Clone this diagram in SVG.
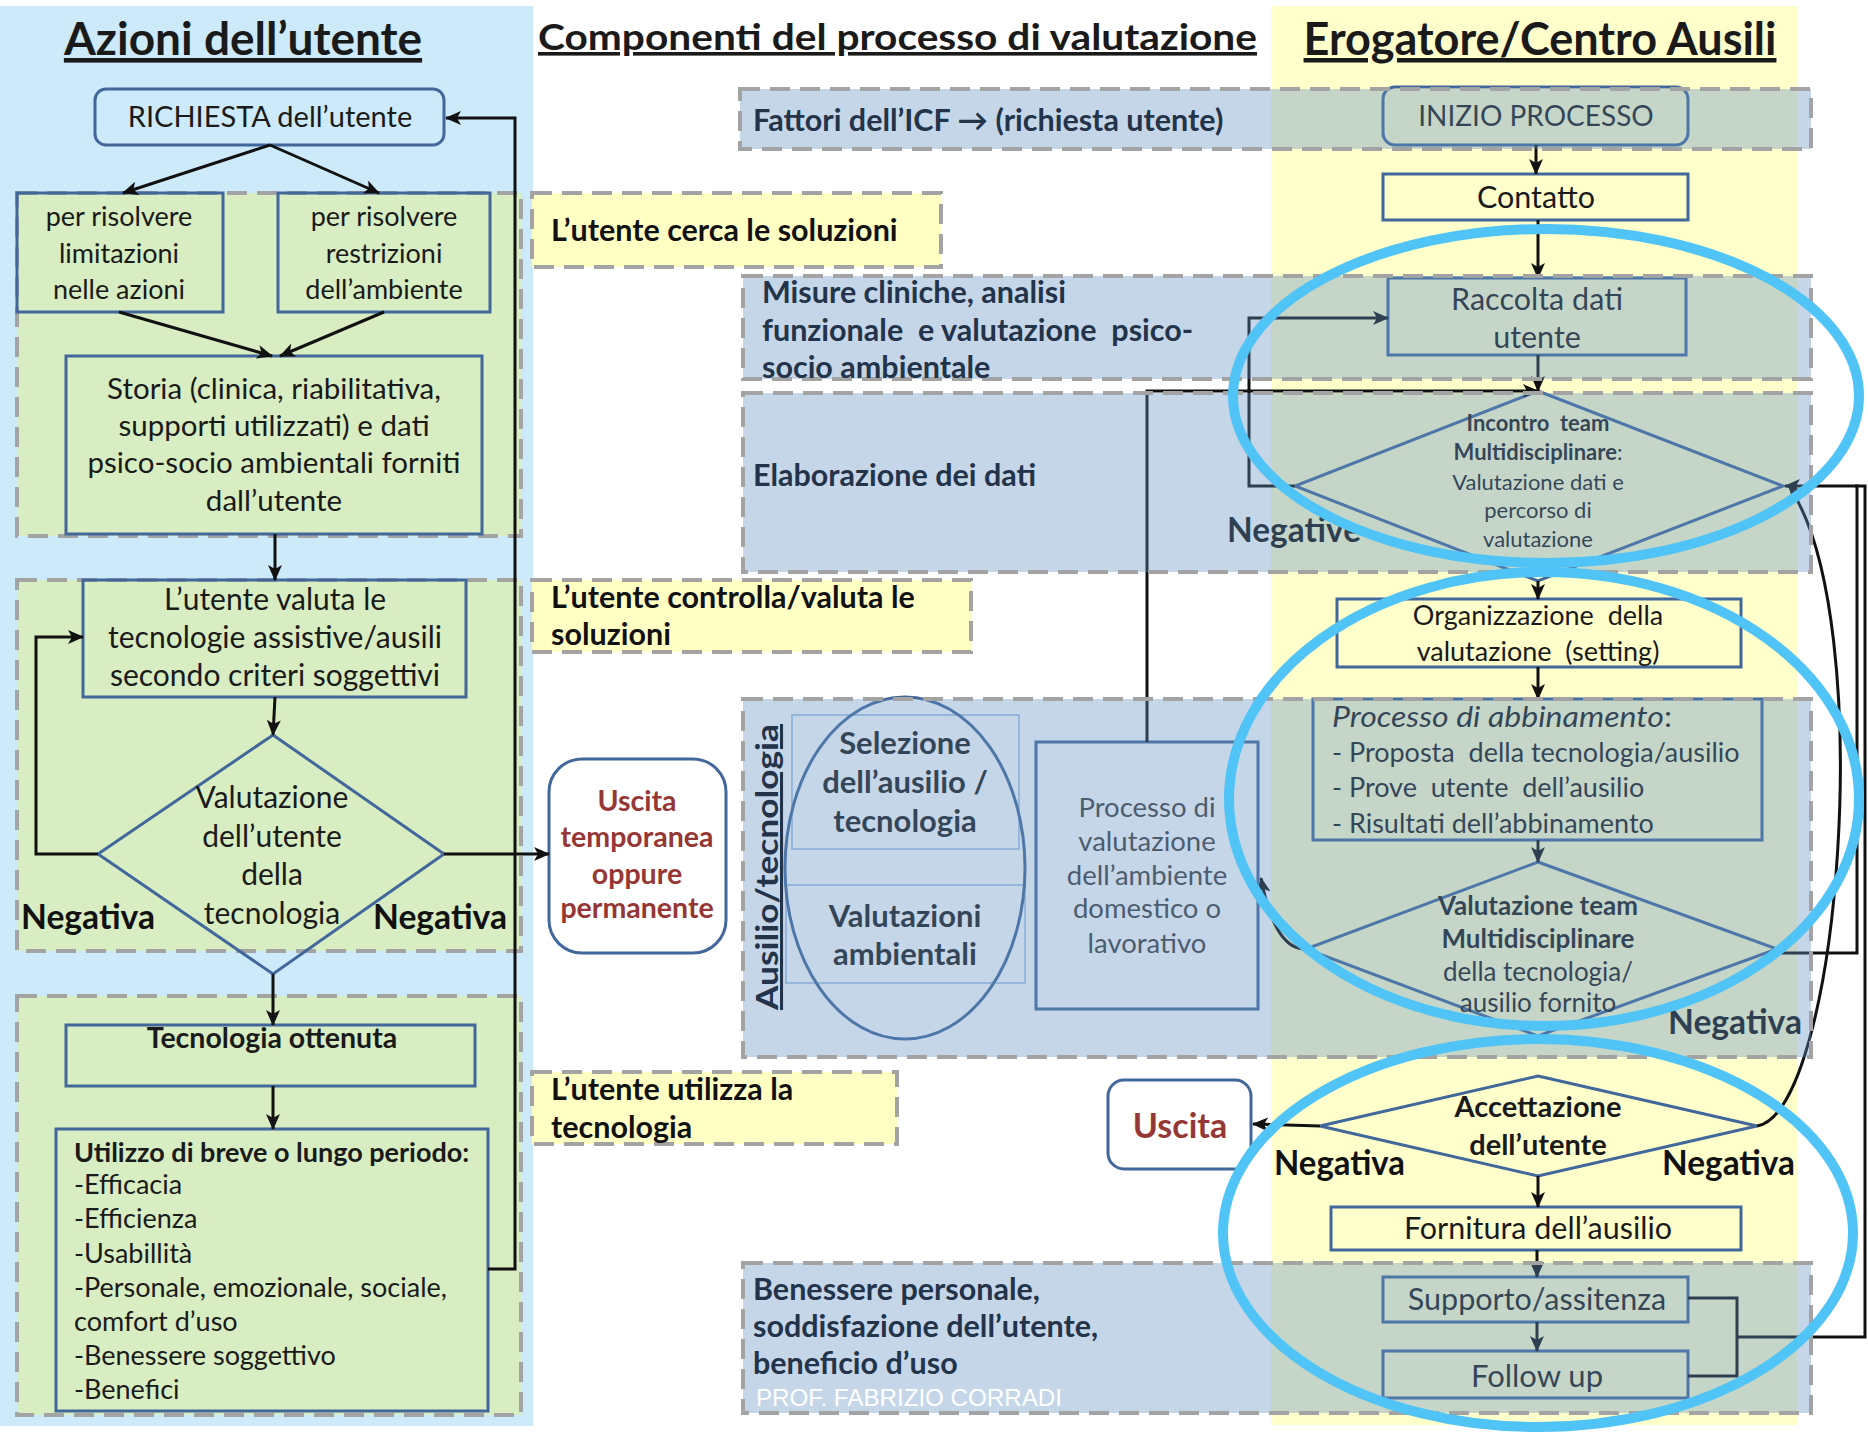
<svg xmlns="http://www.w3.org/2000/svg" width="1868" height="1432" viewBox="0 0 1868 1432">
  <defs>
    <marker id="arr" markerUnits="userSpaceOnUse" markerWidth="16" markerHeight="14" viewBox="0 0 16 14" refX="15" refY="7" orient="auto">
      <path d="M0,0 L16,7 L0,14 L4,7 Z" fill="#111"/>
    </marker>
    <style>
      text { font-family: Lato, "Open Sans", "Liberation Sans", sans-serif; fill: #1a1a1a; }
      .c { text-anchor: middle; }
      .b { font-weight: 700; }
      .box { fill: none; stroke: #41679B; stroke-width: 3; }
      .grp { fill: #D8EDC1; stroke: #A3A3A3; stroke-width: 4; stroke-dasharray: 20 10; }
      .ylw { fill: #FFFFC4; stroke: #A3A3A3; stroke-width: 4; stroke-dasharray: 20 10; }
      .lane { fill: #6290C1; fill-opacity: 0.37; }
      .lane-edge { fill: none; stroke: #A3A3A3; stroke-width: 4; stroke-dasharray: 20 10; }
      .lbl { font-weight: 700; font-size: 30.5px; fill: #22334A; }
      .yl { font-weight: 700; font-size: 30.5px; fill: #111; }
      .con { fill: none; stroke: #111; stroke-width: 3; }
      .arw { marker-end: url(#arr); }
      .neg { font-weight: 700; font-size: 35px; fill: #111; }
      .exit { font-weight: 700; fill: #953735; }
      .mark { fill: none; stroke: #50C4F6; stroke-width: 10; }
      .inner { fill: none; stroke: #9CBCE4; stroke-width: 1.5; }
    </style>
  </defs>

  <!-- backgrounds -->
  <rect x="0" y="0" width="1868" height="1432" fill="#fff"/>
  <rect x="0" y="6" width="533" height="1420" fill="#CDEAFB"/>
  <rect x="1271" y="6" width="526" height="1419" fill="#FFFFCC"/>

  <!-- column titles -->
  <text class="b c" x="243" y="55" font-size="46" text-decoration="underline">Azioni dell’utente</text>
  <text class="b" x="538" y="50" font-size="36" textLength="719" lengthAdjust="spacingAndGlyphs" text-decoration="underline">Componenti del processo di valutazione</text>
  <text class="b c" x="1540" y="55" font-size="45" text-decoration="underline">Erogatore/Centro Ausili</text>

  <!-- user-side containers -->
  <rect id="grp-ricerca" x="17" y="193" width="504" height="343" class="grp" stroke="#E39B9B"/>
  <rect id="grp-valuta" x="17" y="580" width="504" height="371" class="grp"/>
  <rect id="grp-utilizzo" x="17" y="996" width="504" height="419" class="grp"/>

  <!-- yellow phase labels -->
  <g id="fase-cerca">
    <rect x="532" y="193" width="409" height="74" class="ylw"/>
    <text class="yl" x="551" y="241">L’utente cerca le soluzioni</text>
  </g>
  <g id="fase-controlla">
    <rect x="532" y="580" width="439" height="72" class="ylw"/>
    <text class="yl" x="551" y="608">L’utente controlla/valuta le</text>
    <text class="yl" x="551" y="645">soluzioni</text>
  </g>
  <g id="fase-utilizza">
    <rect x="532" y="1072" width="365" height="72" class="ylw"/>
    <text class="yl" x="551" y="1100">L’utente utilizza la</text>
    <text class="yl" x="551" y="1138">tecnologia</text>
  </g>

  <!-- left column nodes -->
  <g id="richiesta">
    <rect x="95" y="89" width="349" height="56" rx="11" class="box"/>
    <text class="c" x="270" y="127" font-size="29">RICHIESTA dell’utente</text>
  </g>
  <g id="limitazioni">
    <rect x="17" y="193" width="206" height="119" class="box"/>
    <text class="c" x="119" y="226" font-size="27">per risolvere</text>
    <text class="c" x="119" y="263" font-size="27">limitazioni</text>
    <text class="c" x="119" y="299" font-size="27">nelle azioni</text>
  </g>
  <g id="restrizioni">
    <rect x="278" y="193" width="212" height="119" class="box"/>
    <text class="c" x="384" y="226" font-size="27">per risolvere</text>
    <text class="c" x="384" y="263" font-size="27">restrizioni</text>
    <text class="c" x="384" y="299" font-size="27">dell’ambiente</text>
  </g>
  <g id="storia">
    <rect x="66" y="356" width="416" height="178" class="box"/>
    <text class="c" x="274" y="399" font-size="29.5">Storia (clinica, riabilitativa,</text>
    <text class="c" x="274" y="436" font-size="29.5">supporti utilizzati) e dati</text>
    <text class="c" x="274" y="473" font-size="29.5">psico-socio ambientali forniti</text>
    <text class="c" x="274" y="511" font-size="29.5">dall’utente</text>
  </g>
  <g id="valuta-tecnologie">
    <rect x="83" y="580" width="383" height="117" class="box"/>
    <text class="c" x="275" y="610" font-size="30">L’utente valuta le</text>
    <text class="c" x="275" y="648" font-size="30">tecnologie assistive/ausili</text>
    <text class="c" x="275" y="686" font-size="30">secondo criteri soggettivi</text>
  </g>
  <g id="valutazione-utente">
    <path d="M273,735 L444,854 L273,974 L98,854 Z" class="box"/>
    <text class="c" x="272" y="808" font-size="30">Valutazione</text>
    <text class="c" x="272" y="847" font-size="30">dell’utente</text>
    <text class="c" x="272" y="885" font-size="30">della</text>
    <text class="c" x="272" y="924" font-size="30">tecnologia</text>
    <text class="neg" x="21" y="929" textLength="134" lengthAdjust="spacingAndGlyphs">Negativa</text>
    <text class="neg" x="373" y="929" textLength="134" lengthAdjust="spacingAndGlyphs">Negativa</text>
  </g>
  <g id="tecnologia-ottenuta">
    <rect x="66" y="1025" width="409" height="61" class="box"/>
    <text class="b c" x="272" y="1048" font-size="28.5">Tecnologia ottenuta</text>
  </g>
  <g id="utilizzo">
    <rect x="56" y="1129" width="432" height="282" class="box"/>
    <text class="b" x="74" y="1162" font-size="27">Utilizzo di breve o lungo periodo:</text>
    <text x="74" y="1194" font-size="27">-Efficacia</text>
    <text x="74" y="1228" font-size="27">-Efficienza</text>
    <text x="74" y="1263" font-size="27">-Usabillità</text>
    <text x="74" y="1297" font-size="27">-Personale, emozionale, sociale,</text>
    <text x="74" y="1331" font-size="27">comfort d’uso</text>
    <text x="74" y="1365" font-size="27">-Benessere soggettivo</text>
    <text x="74" y="1399" font-size="27">-Benefici</text>
  </g>

  <!-- middle nodes -->
  <g id="uscita-temporanea">
    <rect x="549" y="759" width="177" height="194" rx="33" fill="#fff" stroke="#41679B" stroke-width="3"/>
    <text class="exit c" x="637" y="811" font-size="28.5">Uscita</text>
    <text class="exit c" x="637" y="847" font-size="28.5">temporanea</text>
    <text class="exit c" x="637" y="884" font-size="28.5">oppure</text>
    <text class="exit c" x="637" y="918" font-size="28.5">permanente</text>
  </g>
  <g id="selezione">
    <rect x="792" y="715" width="227" height="134" class="inner"/>
    <rect x="786" y="885" width="239" height="98" class="inner"/>
    <ellipse cx="905" cy="868" rx="120" ry="171" class="box"/>
    <text class="b c" x="905" y="754" font-size="31">Selezione</text>
    <text class="b c" x="905" y="793" font-size="31">dell’ausilio /</text>
    <text class="b c" x="905" y="832" font-size="31">tecnologia</text>
    <text class="b c" x="905" y="927" font-size="31">Valutazioni</text>
    <text class="b c" x="905" y="965" font-size="31">ambientali</text>
  </g>
  <g id="processo-ambiente">
    <rect x="1036" y="742" width="222" height="267" class="box"/>
    <text class="c" x="1147" y="817" font-size="27.5" style="fill:#404040">Processo di</text>
    <text class="c" x="1147" y="851" font-size="27.5" style="fill:#404040">valutazione</text>
    <text class="c" x="1147" y="885" font-size="27.5" style="fill:#404040">dell’ambiente</text>
    <text class="c" x="1147" y="918" font-size="27.5" style="fill:#404040">domestico o</text>
    <text class="c" x="1147" y="953" font-size="27.5" style="fill:#404040">lavorativo</text>
  </g>
  <g id="uscita">
    <rect x="1108" y="1080" width="143" height="89" rx="16" fill="#fff" stroke="#41679B" stroke-width="3"/>
    <text class="exit c" x="1180" y="1138" font-size="34">Uscita</text>
  </g>

  <!-- provider column nodes -->
  <g id="inizio">
    <rect x="1383" y="87" width="305" height="58" rx="12" class="box"/>
    <text class="c" x="1536" y="126" font-size="28">INIZIO PROCESSO</text>
  </g>
  <g id="contatto">
    <rect x="1383" y="174" width="305" height="46" class="box"/>
    <text class="c" x="1536" y="208" font-size="30.5">Contatto</text>
  </g>
  <g id="raccolta">
    <rect x="1388" y="278" width="298" height="77" class="box"/>
    <text class="c" x="1537" y="310" font-size="30.5">Raccolta dati</text>
    <text class="c" x="1537" y="348" font-size="30.5">utente</text>
  </g>
  <g id="incontro-team">
    <path d="M1538,391 L1783,486 L1538,581 L1295,486 Z" class="box"/>
    <text class="b c" x="1538" y="431" font-size="22" xml:space="preserve">Incontro  team</text>
    <text class="c" x="1538" y="460" font-size="22"><tspan font-weight="700">Multidisciplinare</tspan>:</text>
    <text class="c" x="1538" y="490" font-size="22">Valutazione dati e</text>
    <text class="c" x="1538" y="518" font-size="22">percorso di</text>
    <text class="c" x="1538" y="547" font-size="22">valutazione</text>
    <text class="neg" x="1227" y="542" textLength="134" lengthAdjust="spacingAndGlyphs">Negative</text>
  </g>
  <g id="organizzazione">
    <rect x="1337" y="599" width="404" height="68" class="box"/>
    <text class="c" x="1538" y="625" font-size="27" xml:space="preserve">Organizzazione  della</text>
    <text class="c" x="1538" y="661" font-size="27" xml:space="preserve">valutazione  (setting)</text>
  </g>
  <g id="abbinamento">
    <rect x="1313" y="699" width="449" height="141" class="box"/>
    <text x="1332" y="727" font-size="28" textLength="340" lengthAdjust="spacingAndGlyphs"><tspan font-style="italic">Processo di abbinamento</tspan>:</text>
    <text x="1332" y="762" font-size="27" xml:space="preserve">- Proposta  della tecnologia/ausilio</text>
    <text x="1332" y="797" font-size="27" xml:space="preserve">- Prove  utente  dell’ausilio</text>
    <text x="1332" y="833" font-size="27">- Risultati dell’abbinamento</text>
  </g>
  <g id="valutazione-team">
    <path d="M1538,862 L1777,949 L1538,1036 L1306,949 Z" class="box"/>
    <text class="b c" x="1538" y="915" font-size="26">Valutazione team</text>
    <text class="b c" x="1538" y="948" font-size="26">Multidisciplinare</text>
    <text class="c" x="1538" y="981" font-size="26">della tecnologia/</text>
    <text class="c" x="1538" y="1012" font-size="26">ausilio fornito</text>
    <text class="neg" x="1668" y="1034" textLength="134" lengthAdjust="spacingAndGlyphs">Negativa</text>
  </g>
  <g id="accettazione">
    <path d="M1538,1076 L1757,1126 L1538,1176 L1320,1126 Z" class="box"/>
    <text class="b c" x="1538" y="1117" font-size="29">Accettazione</text>
    <text class="b c" x="1538" y="1155" font-size="29">dell’utente</text>
    <text class="neg" x="1274" y="1175" textLength="131" lengthAdjust="spacingAndGlyphs">Negativa</text>
    <text class="neg" x="1662" y="1175" textLength="133" lengthAdjust="spacingAndGlyphs">Negativa</text>
  </g>
  <g id="fornitura">
    <rect x="1331" y="1207" width="410" height="43" class="box"/>
    <text class="c" x="1538" y="1239" font-size="30.5">Fornitura dell’ausilio</text>
  </g>
  <g id="supporto">
    <rect x="1383" y="1277" width="305" height="45" class="box"/>
    <text class="c" x="1537" y="1310" font-size="30.5">Supporto/assitenza</text>
  </g>
  <g id="follow-up">
    <rect x="1383" y="1351" width="305" height="47" class="box"/>
    <text class="c" x="1537" y="1387" font-size="31">Follow up</text>
  </g>

  <!-- connectors -->
  <g id="connectors">
    <path class="con arw" d="M270,145 L123,193"/>
    <path class="con arw" d="M270,145 L379,193"/>
    <path class="con arw" d="M119,312 L272,356"/>
    <path class="con arw" d="M384,312 L280,356"/>
    <path class="con arw" d="M275,534 L275,580"/>
    <path class="con arw" d="M275,697 L273,735"/>
    <path class="con arw" d="M98,854 L36,854 L36,637 L83,637"/>
    <path class="con arw" d="M444,854 L549,854"/>
    <path class="con arw" d="M273,974 L273,1025"/>
    <path class="con arw" d="M273,1086 L273,1129"/>
    <path class="con arw" d="M488,1269 L515,1269 L515,118 L446,118"/>
    <path class="con arw" d="M1536,145 L1536,174"/>
    <path class="con arw" d="M1538,220 L1538,278"/>
    <path class="con arw" d="M1538,355 L1538,391"/>
    <path class="con arw" d="M1147,742 L1147,391 L1538,391"/>
    <path class="con arw" d="M1295,486 L1249,486 L1249,318 L1388,318"/>
    <path class="con arw" d="M1538,581 L1538,599"/>
    <path class="con arw" d="M1538,667 L1538,699"/>
    <path class="con arw" d="M1538,840 L1538,862"/>
    <path class="con arw" d="M1306,949 C1285,950 1270,925 1261,878"/>
    <path class="con arw" d="M1777,953 L1857,953 L1857,486 L1785,486"/>
    <path class="con" d="M1737,1337 L1865,1337 L1865,486 L1855,486"/>
    <path class="con arw" d="M1757,1126 C1840,1112 1878,620 1790,488"/>
    <path class="con arw" d="M1320,1126 L1253,1124"/>
    <path class="con arw" d="M1538,1176 L1538,1207"/>
    <path class="con arw" d="M1537,1250 L1537,1277"/>
    <path class="con arw" d="M1537,1322 L1537,1351"/>
    <path class="con" d="M1688,1298 L1737,1298 L1737,1376 L1688,1376"/>
  </g>

  <!-- process lanes (translucent bands) -->
  <g id="lane-icf">
    <rect x="740" y="89" width="1071" height="60" class="lane"/>
    <rect x="740" y="89" width="1071" height="60" class="lane-edge"/>
    <text class="lbl" x="753" y="131">Fattori dell’ICF → (richiesta utente)</text>
  </g>
  <g id="lane-misure">
    <rect x="743" y="276" width="1068" height="103" class="lane"/>
    <rect x="743" y="276" width="1068" height="103" class="lane-edge"/>
    <text class="lbl" x="762" y="303" font-size="29.5">Misure cliniche, analisi</text>
    <text class="lbl" x="762" y="341" font-size="29.5" xml:space="preserve">funzionale  e valutazione  psico-</text>
    <text class="lbl" x="762" y="378" font-size="29.5">socio ambientale</text>
  </g>
  <g id="lane-elaborazione">
    <rect x="743" y="393" width="1068" height="179" class="lane"/>
    <rect x="743" y="393" width="1068" height="179" class="lane-edge"/>
    <text class="lbl" x="753" y="486">Elaborazione dei dati</text>
  </g>
  <g id="lane-ausilio">
    <rect x="743" y="699" width="1068" height="358" class="lane"/>
    <rect x="743" y="699" width="1068" height="358" class="lane-edge"/>
    <text class="lbl c" transform="translate(778,867) rotate(-90)" font-size="45" textLength="286" lengthAdjust="spacingAndGlyphs" text-decoration="underline">Ausilio/tecnologia</text>
  </g>
  <g id="lane-benessere">
    <rect x="743" y="1263" width="1068" height="150" class="lane"/>
    <rect x="743" y="1263" width="1068" height="150" class="lane-edge" stroke="#1F4E8C"/>
    <text class="lbl" x="753" y="1300" font-size="31">Benessere personale,</text>
    <text class="lbl" x="753" y="1337" font-size="31">soddisfazione dell’utente,</text>
    <text class="lbl" x="753" y="1374" font-size="31">beneficio d’uso</text>
    <text x="756" y="1406" font-size="24" textLength="306" lengthAdjust="spacingAndGlyphs" style="font-family:'Liberation Sans', Arial, sans-serif; fill:#fff">PROF. FABRIZIO CORRADI</text>
  </g>

  <!-- highlight rings -->
  <g id="highlights">
    <ellipse cx="1546" cy="396" rx="313" ry="167" class="mark"/>
    <ellipse cx="1544" cy="799" rx="315" ry="227" class="mark"/>
    <ellipse cx="1538" cy="1233" rx="315" ry="194" class="mark"/>
  </g>
</svg>
